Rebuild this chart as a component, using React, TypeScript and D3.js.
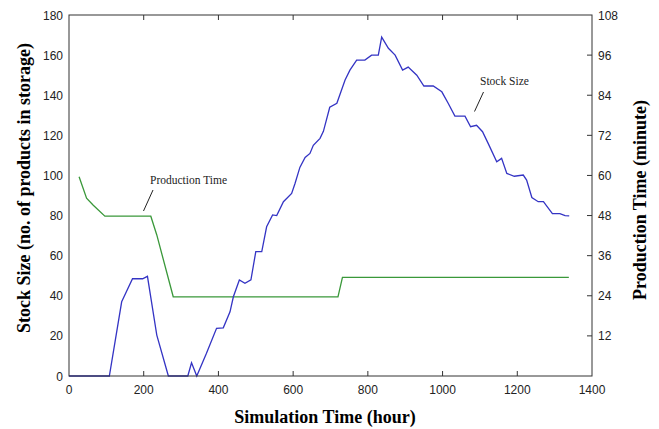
import React from "react";
import * as d3 from "d3";

const stockT = [0, 108, 141, 170, 197, 210, 235, 266, 318, 328, 342, 368, 395, 413, 431, 440, 456, 471, 487, 500, 516, 529, 545, 556, 574, 596, 605, 618, 632, 645, 654, 672, 681, 698, 717, 739, 752, 770, 792, 810, 828, 837, 855, 873, 893, 908, 931, 950, 975, 998, 1015, 1033, 1060, 1075, 1091, 1107, 1122, 1145, 1158, 1172, 1192, 1216, 1225, 1239, 1256, 1270, 1294, 1314, 1328, 1339];
const stockV = [0, 0, 37, 48.5, 48.5, 49.7, 20.4, 0, 0, 6.6, 0, 11.3, 23.8, 24, 32, 39.5, 47.9, 46.2, 47.9, 62, 62, 74.4, 80.3, 80, 86.9, 91, 96, 104, 109, 111, 115, 118.5, 122, 134, 136, 147.6, 152.5, 157.5, 157.5, 160, 160, 169, 163.4, 160, 152.5, 154, 150, 144.6, 144.6, 141.7, 136, 129.6, 129.6, 124.3, 125, 121.8, 116, 106.8, 108.5, 101, 99.6, 100.2, 97.7, 89, 86.9, 86.9, 81, 81, 80, 79.8];

const prodT = [27, 47, 65, 96, 219, 235, 279, 720, 732, 1338];
const prodV = [59.6, 53.2, 51.1, 47.8, 47.8, 42.2, 23.7, 23.7, 29.5, 29.5];

const xTicks = [0, 200, 400, 600, 800, 1000, 1200, 1400];
const yTicks = [0, 20, 40, 60, 80, 100, 120, 140, 160, 180];
const y2Ticks = [12, 24, 36, 48, 60, 72, 84, 96, 108];

export default function App() {
  const L = 69, R = 592, T = 15, B = 376;
  const x = d3.scaleLinear().domain([0, 1400]).range([L, R]);
  const y = d3.scaleLinear().domain([0, 180]).range([B, T]);
  const y2 = d3.scaleLinear().domain([0, 108]).range([B, T]);

  const stockLine = d3.line<number>().x((_, i) => x(stockT[i])).y((d) => y(d));
  const prodLine = d3.line<number>().x((_, i) => x(prodT[i])).y((d) => y2(d));

  const tickFont = "'Liberation Sans', Arial, sans-serif";
  const serif = "'Liberation Serif', 'Times New Roman', serif";
  const axisColor = "#333";

  return (
    <svg width={659} height={429} style={{ position: "absolute", left: 0, top: 0, background: "#fff" }}>
      <rect x={0} y={0} width={659} height={429} fill="#fff" />
      {/* lines */}
      <path d={prodLine(prodV) || ""} fill="none" stroke="#3a983a" strokeWidth={1.3} />
      <path d={stockLine(stockV) || ""} fill="none" stroke="#3434c4" strokeWidth={1.3} />
      {/* frame */}
      <rect x={L} y={T} width={R - L} height={B - T} fill="none" stroke={axisColor} strokeWidth={1} />
      {/* x ticks */}
      {xTicks.map((t) => (
        <g key={"x" + t}>
          {t > 0 && t < 1400 && (
            <>
              <line x1={x(t)} x2={x(t)} y1={B} y2={B - 5} stroke={axisColor} />
              <line x1={x(t)} x2={x(t)} y1={T} y2={T + 5} stroke={axisColor} />
            </>
          )}
          <text x={x(t)} y={394} textAnchor="middle" fontFamily={tickFont} fontSize={12} fill="#222">
            {t}
          </text>
        </g>
      ))}
      {/* left y labels */}
      {yTicks.map((v) => (
        <text key={"y" + v} x={63} y={y(v) + 4.5} textAnchor="end" fontFamily={tickFont} fontSize={12} fill="#222">
          {v}
        </text>
      ))}
      {/* right y ticks */}
      {y2Ticks.map((v) => (
        <g key={"y2" + v}>
          {v < 108 && <line x1={R} x2={R - 5} y1={y2(v)} y2={y2(v)} stroke={axisColor} />}
          <text x={598} y={y2(v) + 4.5} textAnchor="start" fontFamily={tickFont} fontSize={12} fill="#222">
            {v}
          </text>
        </g>
      ))}
      {/* axis titles */}
      <text x={325} y={423} textAnchor="middle" fontFamily={serif} fontWeight="bold" fontSize={18} fill="#000">
        Simulation Time (hour)
      </text>
      <text
        transform={`translate(30,188) rotate(-90)`}
        textAnchor="middle"
        fontFamily={serif}
        fontWeight="bold"
        fontSize={18}
        fill="#000"
      >
        Stock Size (no. of products in storage)
      </text>
      <text
        transform={`translate(646,200) rotate(-90)`}
        textAnchor="middle"
        fontFamily={serif}
        fontWeight="bold"
        fontSize={18}
        fill="#000"
      >
        Production Time (minute)
      </text>
      {/* annotations */}
      <text x={150} y={184} fontFamily={serif} fontSize={11.5} fill="#222">
        Production Time
      </text>
      <line x1={153} y1={190} x2={143.5} y2={211} stroke="#222" strokeWidth={1} />
      <text x={480} y={85} fontFamily={serif} fontSize={11.5} fill="#222">
        Stock Size
      </text>
      <line x1={483.5} y1={92} x2={474.5} y2={111.5} stroke="#222" strokeWidth={1} />
    </svg>
  );
}
